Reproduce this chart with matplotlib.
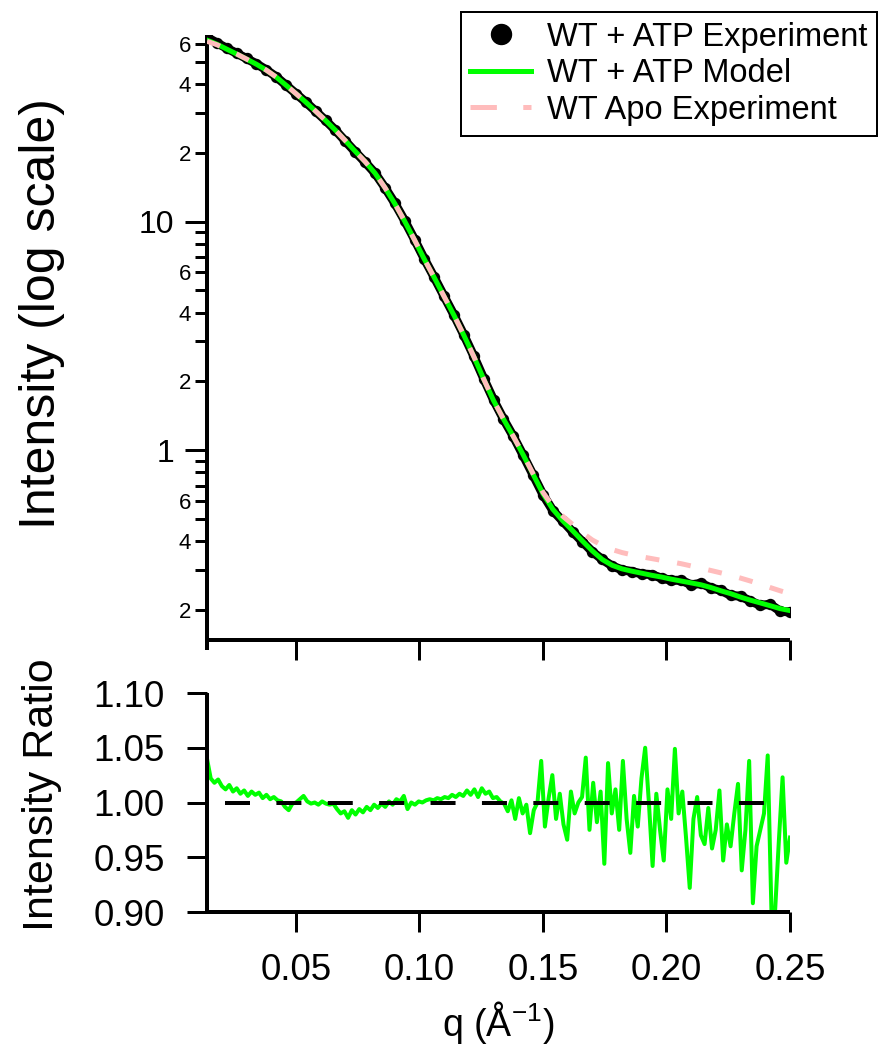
import numpy as np
import matplotlib
matplotlib.use('Agg')
import matplotlib.pyplot as plt
from matplotlib.ticker import FixedLocator, FuncFormatter, NullFormatter
from matplotlib.lines import Line2D

plt.rcParams['font.family'] = ['Liberation Sans', 'DejaVu Sans']
plt.rcParams['mathtext.default'] = 'regular'
plt.rcParams['lines.scale_dashes'] = False

# ---------------- data ----------------
q_fit = np.linspace(0.014, 0.250, 60)

exp_int = [64.0, 60.5, 57.3, 54.5, 51.7, 49.0, 46.1, 43.0, 39.5, 36.3,
           33.3, 30.4, 27.7, 25.1, 22.5, 20.2, 18.2, 16.3, 14.1, 12.05,
           10.1, 8.35, 6.86, 5.70, 4.71, 3.90, 3.19, 2.58, 2.06, 1.66,
           1.37, 1.15, 0.950, 0.780, 0.640, 0.545, 0.490, 0.440, 0.398, 0.360,
           0.333, 0.312, 0.300, 0.295, 0.288, 0.286, 0.276, 0.270, 0.270, 0.258,
           0.262, 0.250, 0.244, 0.232, 0.230, 0.219, 0.210, 0.212, 0.198, 0.196]

model_int = [62.2, 59.7, 56.8, 54.1, 51.4, 48.8, 46.0, 42.9, 39.5, 36.3,
             33.3, 30.4, 27.7, 25.1, 22.6, 20.3, 18.3, 16.3, 14.1, 12.0,
             10.05, 8.32, 6.84, 5.69, 4.70, 3.89, 3.18, 2.57, 2.05, 1.65,
             1.37, 1.15, 0.955, 0.785, 0.646, 0.552, 0.492, 0.445, 0.401, 0.363,
             0.333, 0.314, 0.303, 0.296, 0.290, 0.284, 0.279, 0.273, 0.268, 0.263,
             0.258, 0.251, 0.243, 0.236, 0.228, 0.221, 0.215, 0.209, 0.203, 0.199]

apo_int = [61.5, 59.4, 56.7, 54.1, 51.4, 48.8, 46.0, 42.9, 39.5, 36.3,
           33.3, 30.4, 27.7, 25.1, 22.6, 20.3, 18.3, 16.3, 14.1, 12.0,
           10.05, 8.32, 6.84, 5.69, 4.70, 3.89, 3.18, 2.57, 2.05, 1.65,
           1.37, 1.15, 0.958, 0.790, 0.655, 0.568, 0.515, 0.474, 0.435, 0.405,
           0.384, 0.368, 0.357, 0.349, 0.342, 0.336, 0.330, 0.325, 0.319, 0.312,
           0.305, 0.298, 0.291, 0.284, 0.276, 0.268, 0.260, 0.251, 0.243, 0.236]

ratio = [1.040, 1.022, 1.018, 1.021, 1.015,
         1.012, 1.016, 1.010, 1.013, 1.008, 1.011, 1.006, 1.010, 1.007, 1.009,
         1.004, 1.007, 1.003, 1.005, 1.002,
         1.001, 0.996, 0.993, 0.999, 1.000, 1.003, 1.006, 1.001, 0.999, 1.000,
         0.998, 1.001, 0.999, 0.998, 0.999,
         0.994, 0.990, 0.992, 0.986, 0.993, 0.989, 0.994, 0.991, 0.996, 0.993,
         0.998, 0.995, 0.999, 0.996, 1.001, 0.998, 1.003, 1.001,
         1.006, 0.994, 1.000, 0.998, 1.001, 1.000, 1.002, 1.003, 1.002, 1.004,
         1.003, 1.005, 1.004, 1.007, 1.005, 1.008, 1.006, 1.011, 1.007, 1.012,
         1.005, 1.013, 1.008, 1.010, 1.004, 1.005, 1.001, 0.999,
         0.992, 1.002, 0.985, 1.004, 0.990, 0.998, 0.972, 0.993, 1.000, 1.038,
         0.978, 1.004, 1.025, 0.985, 1.008, 0.980, 0.966, 1.010, 0.990, 1.000,
         1.005, 1.041, 0.975, 1.018, 0.982, 1.010, 0.944, 1.036, 0.990, 1.012,
         0.975, 1.038, 0.985, 0.954, 1.006, 0.978, 1.022, 1.050, 1.000, 0.942,
         1.008, 0.975, 0.947, 1.012, 0.985, 1.049, 0.990, 1.010, 0.968, 0.922,
         0.985, 1.005, 0.970, 0.962, 0.995, 0.958, 0.975, 1.011, 0.947, 0.980,
         0.960, 0.990, 1.017, 0.938, 0.975, 1.038, 0.908, 0.960, 0.975, 0.990,
         1.043, 0.901, 0.902, 0.965, 1.023, 0.945, 0.968]
q_ratio = np.linspace(0.014, 0.250, len(ratio))

ref_q = [0.0213, 0.2411]
ref_val = [1.0, 1.0]

x_ticks = [0.05, 0.10, 0.15, 0.20, 0.25]
ratio_ticks = [0.90, 0.95, 1.00, 1.05, 1.10]
labels = ['WT + ATP Experiment', 'WT + ATP Model', 'WT Apo Experiment']

# ---------------- layout ----------------
W, H = 881, 1048
PT = 0.72  # points per pixel
fig = plt.figure(figsize=(W / 100, H / 100), dpi=100)


def px(l, t, r, b):
    return [l / W, 1 - b / H, (r - l) / W, (b - t) / H]


ax1 = fig.add_axes(px(207, 35, 790, 640))
ax2 = fig.add_axes(px(207, 693, 790, 912))

GREEN = '#00ff00'
PINK = '#ffbcbc'

# ---------------- top panel ----------------
ax1.plot(q_fit, exp_int, color='k', lw=9 * PT, marker='o', ms=10 * PT,
         solid_joinstyle='round', solid_capstyle='round', zorder=2)
ax1.plot(q_fit, model_int, color=GREEN, lw=5 * PT, zorder=3)
ax1.plot(q_fit, apo_int, color=PINK, lw=5 * PT, dashes=(10, 13), zorder=4)

ax1.set_yscale('log')
ax1.set_xlim(0.014, 0.250)
ax1.set_ylim(0.148, 65.5)
ax1.yaxis.set_major_locator(FixedLocator([1, 10]))
ax1.yaxis.set_major_formatter(FuncFormatter(lambda v, p: '%g' % v))
minor_vals = [m * d for d in (0.1, 1, 10) for m in range(2, 10)]
ax1.yaxis.set_minor_locator(FixedLocator(minor_vals))


def minor_fmt(v, p):
    lead = round(v / 10 ** np.floor(np.log10(v) + 1e-9))
    return '%d' % lead if lead in (2, 4, 6) else ''


ax1.yaxis.set_minor_formatter(FuncFormatter(minor_fmt))
ax1.xaxis.set_major_locator(FixedLocator(x_ticks))
ax1.xaxis.set_major_formatter(NullFormatter())
ax1.xaxis.set_minor_locator(FixedLocator([]))

ax1.tick_params(axis='y', which='major', direction='out', length=22 * PT,
                width=3 * PT, labelsize=23, pad=8)
ax1.tick_params(axis='y', which='minor', direction='out', length=12 * PT,
                width=3 * PT, labelsize=16, pad=3)
ax1.tick_params(axis='x', which='major', direction='out', length=20 * PT,
                width=3 * PT)

# ---------------- bottom panel ----------------
ax2.plot(q_ratio, ratio, color=GREEN, lw=4 * PT, zorder=2)
ax2.plot(ref_q, ref_val, color='k', lw=4 * PT, dashes=(18, 19), zorder=3)
ax2.set_xlim(0.014, 0.250)
ax2.set_ylim(0.90, 1.10)
ax2.xaxis.set_major_locator(FixedLocator(x_ticks))
ax2.xaxis.set_major_formatter(FuncFormatter(lambda v, p: '%.2f' % v))
ax2.yaxis.set_major_locator(FixedLocator(ratio_ticks))
ax2.yaxis.set_major_formatter(FuncFormatter(lambda v, p: '%.2f' % v))
ax2.tick_params(axis='both', which='major', direction='out', length=20 * PT,
                width=3 * PT, labelsize=26.5)
ax2.tick_params(axis='y', pad=16)
ax2.tick_params(axis='x', pad=15)

for ax in (ax1, ax2):
    ax.spines['top'].set_visible(False)
    ax.spines['right'].set_visible(False)
    for s in ('left', 'bottom'):
        ax.spines[s].set_linewidth(4 * PT)
        ax.spines[s].set_capstyle('butt')
# left spine of the upper panel runs a little below its x axis
ax1.spines['left'].set_bounds(0.134, 65.5)

# ---------------- labels ----------------
fig.text(42 / W, 1 - 314 / H, 'Intensity (log scale)', rotation=90,
         ha='center', va='center', fontsize=36)
fig.text(42 / W, 1 - 795 / H, 'Intensity Ratio', rotation=90,
         ha='center', va='center', fontsize=31)
fig.text(498 / W, 1 - 1022 / H, 'q (Å$^{-1}$)', ha='center', va='center',
         fontsize=27)

# ---------------- legend ----------------
handles = [Line2D([], [], color='k', marker='o', ls='none', ms=20 * PT),
           Line2D([], [], color=GREEN, lw=5 * PT),
           Line2D([], [], color=PINK, lw=5 * PT, dashes=(19, 19))]
leg = fig.legend(handles, labels, loc='upper right',
                 bbox_to_anchor=(877 / W, 1 - 12 / H),
                 bbox_transform=fig.transFigure, fontsize=23.5,
                 frameon=True, fancybox=False, edgecolor='k', framealpha=1,
                 handlelength=1.85, handletextpad=0.49, labelspacing=0.17,
                 borderpad=0.3, borderaxespad=0)
leg.get_frame().set_linewidth(2 * PT)

fig.savefig('out.png', dpi=100)
